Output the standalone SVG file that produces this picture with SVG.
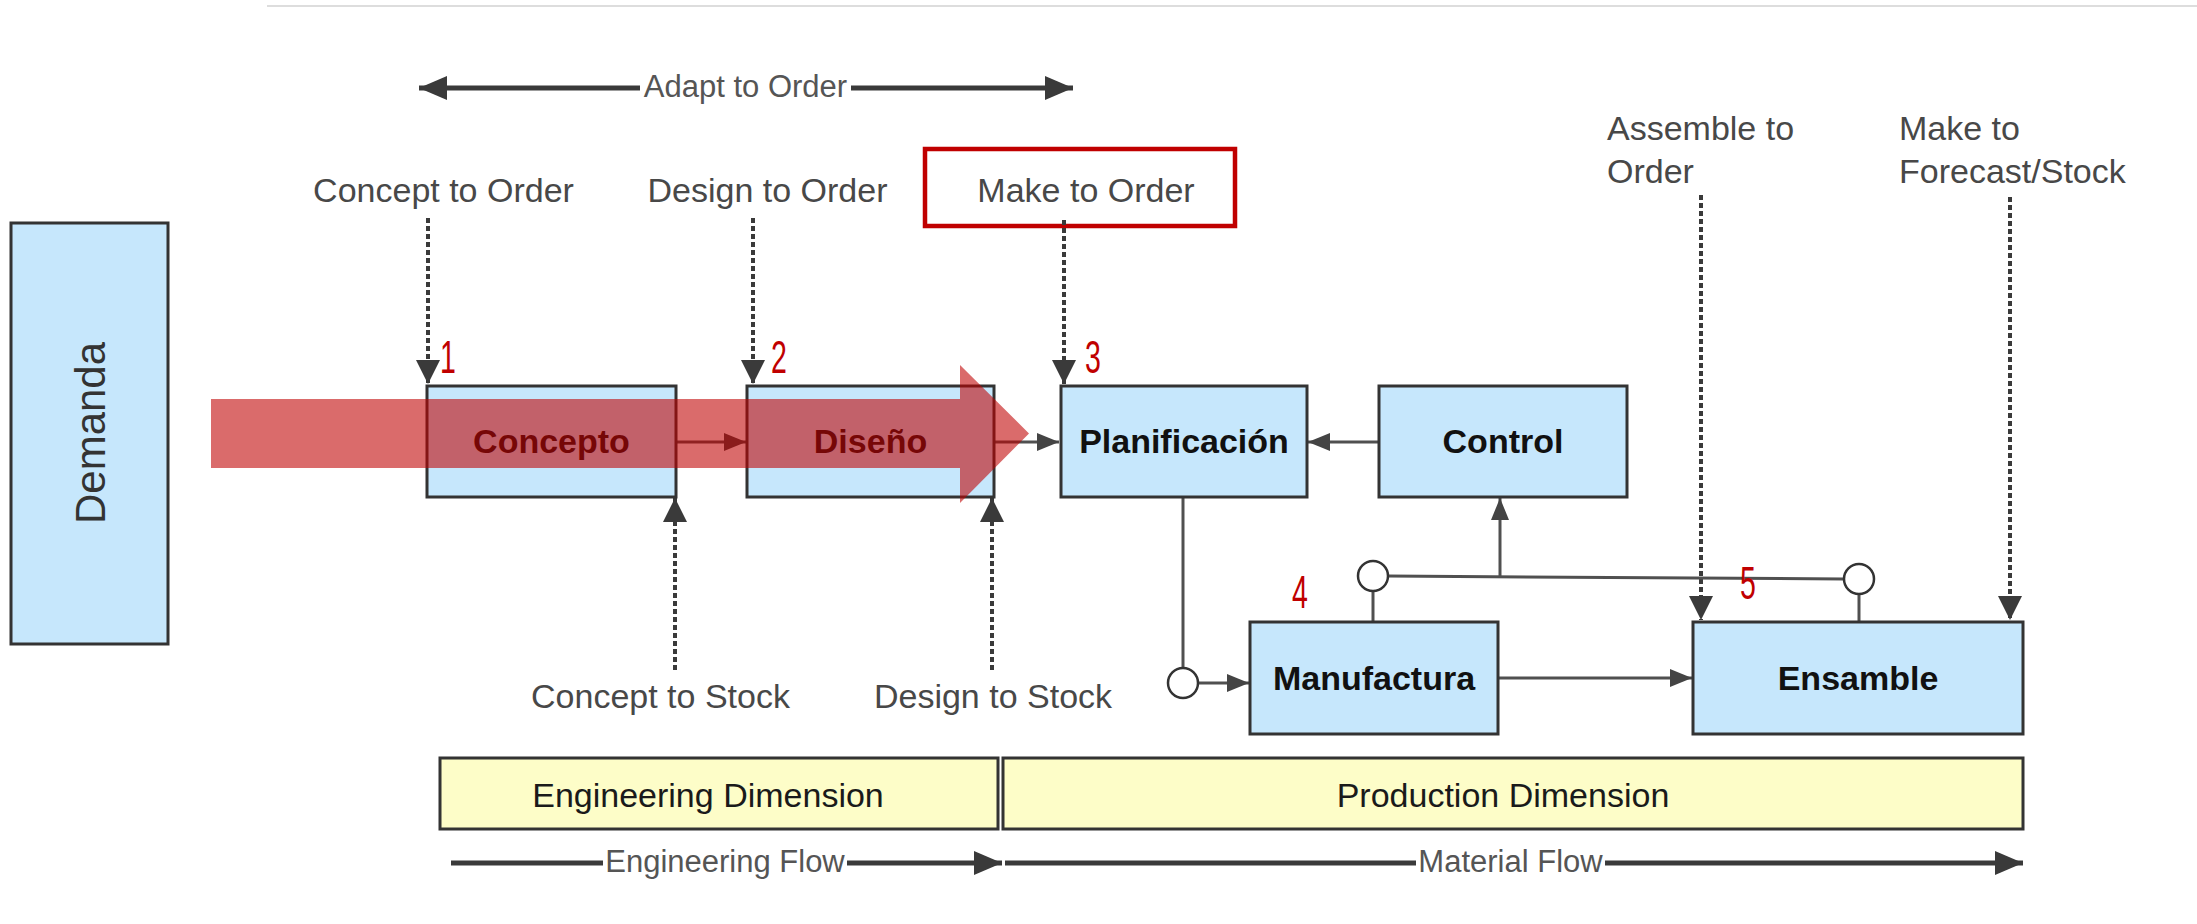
<svg xmlns="http://www.w3.org/2000/svg" width="2197" height="924" viewBox="0 0 2197 924">
<defs>
<style>
.box{fill:#c6e7fc;stroke:#333;stroke-width:3}
.ybox{fill:#fdfdc8;stroke:#333;stroke-width:3}
.lbl{font-family:"Liberation Sans",Arial,sans-serif;font-size:34px;fill:#111;font-weight:bold;text-anchor:middle}
.gl{font-family:"Liberation Sans",Arial,sans-serif;font-size:34px;fill:#484848}
.fl{font-family:"Liberation Sans",Arial,sans-serif;font-size:31px;fill:#555;text-anchor:middle}
.dim{font-family:"Liberation Sans",Arial,sans-serif;font-size:34px;fill:#1a1a1a;text-anchor:middle}
.num{font-family:"Liberation Sans",Arial,sans-serif;font-size:46px;fill:#c00000;text-anchor:middle}
.ln{stroke:#505050;stroke-width:3;fill:none}
.dash{stroke:#3a3a3a;stroke-width:4;stroke-dasharray:5 3;fill:none}
.flow{stroke:#3a3a3a;stroke-width:5;fill:none}
.circ{fill:#fff;stroke:#333;stroke-width:2.5}
</style>
<marker id="ah" viewBox="0 0 22 18" refX="22" refY="9" markerWidth="22" markerHeight="18" markerUnits="userSpaceOnUse" orient="auto"><path d="M0,0 L22,9 L0,18 z" fill="#444"/></marker>
<marker id="ahd" viewBox="0 0 24 24" refX="24" refY="12" markerWidth="24" markerHeight="24" markerUnits="userSpaceOnUse" orient="auto"><path d="M0,0 L24,12 L0,24 z" fill="#3a3a3a"/></marker>
<marker id="big" viewBox="0 0 28 24" refX="28" refY="12" markerWidth="28" markerHeight="24" markerUnits="userSpaceOnUse" orient="auto-start-reverse"><path d="M0,0 L28,12 L0,24 z" fill="#3a3a3a"/></marker>
</defs>
<rect width="2197" height="924" fill="#fff"/>
<line x1="267" y1="6" x2="2197" y2="6" stroke="#ddd" stroke-width="2"/>

<g id="adapt-to-order">
<line class="flow" x1="419" y1="88" x2="640" y2="88" marker-start="url(#big)"/>
<line class="flow" x1="851" y1="88" x2="1073" y2="88" marker-end="url(#big)"/>
<text class="fl" x="745.5" y="97">Adapt to Order</text>
</g>

<g id="labels-top">
<text class="gl" x="443.5" y="202" text-anchor="middle">Concept to Order</text>
<text class="gl" x="767.5" y="202" text-anchor="middle">Design to Order</text>
<rect x="925" y="149" width="310" height="77" fill="none" stroke="#c00000" stroke-width="4.5"/>
<text class="gl" x="1086" y="202" text-anchor="middle">Make to Order</text>
<text class="gl" x="1607" y="140">Assemble to</text>
<text class="gl" x="1607" y="183">Order</text>
<text class="gl" x="1899" y="140">Make to</text>
<text class="gl" x="1899" y="183">Forecast/Stock</text>
<text class="gl" x="660.5" y="708" text-anchor="middle">Concept to Stock</text>
<text class="gl" x="993" y="708" text-anchor="middle">Design to Stock</text>
</g>

<g id="demanda">
<rect class="box" x="11" y="223" width="157" height="421"/>
<text transform="translate(105,433) rotate(-90)" font-family="Liberation Sans,Arial,sans-serif" font-size="42" fill="#333" text-anchor="middle">Demanda</text>
</g>

<g id="connectors">
<line class="dash" x1="428" y1="218" x2="428" y2="384" marker-end="url(#ahd)"/>
<line class="dash" x1="753" y1="218" x2="753" y2="384" marker-end="url(#ahd)"/>
<line class="dash" x1="1064" y1="220" x2="1064" y2="384" marker-end="url(#ahd)"/>
<line class="dash" x1="1701" y1="195" x2="1701" y2="620" marker-end="url(#ahd)"/>
<line class="dash" x1="2010" y1="197" x2="2010" y2="620" marker-end="url(#ahd)"/>
<line class="dash" x1="675" y1="670" x2="675" y2="498" marker-end="url(#ahd)"/>
<line class="dash" x1="992" y1="670" x2="992" y2="498" marker-end="url(#ahd)"/>
<line class="ln" x1="676" y1="442" x2="746" y2="442" marker-end="url(#ah)"/>
<line class="ln" x1="994" y1="442" x2="1059" y2="442" marker-end="url(#ah)"/>
<line class="ln" x1="1379" y1="442" x2="1308" y2="442" marker-end="url(#ah)"/>
<line class="ln" x1="1183" y1="497" x2="1183" y2="668"/>
<line class="ln" x1="1198" y1="683" x2="1249" y2="683" marker-end="url(#ah)"/>
<line class="ln" x1="1498" y1="678" x2="1692" y2="678" marker-end="url(#ah)"/>
<line class="ln" x1="1373" y1="591" x2="1373" y2="622"/>
<line class="ln" x1="1859" y1="594" x2="1859" y2="622"/>
<line class="ln" x1="1388" y1="576" x2="1844" y2="579"/>
<line class="ln" x1="1500" y1="577" x2="1500" y2="498" marker-end="url(#ah)"/>
<circle class="circ" cx="1183" cy="683" r="15"/>
<circle class="circ" cx="1373" cy="576" r="15"/>
<circle class="circ" cx="1859" cy="579" r="15"/>
</g>

<g id="concepto">
<rect class="box" x="427" y="386" width="249" height="111"/>
<text class="lbl" x="551.5" y="453">Concepto</text>
</g>
<g id="diseno">
<rect class="box" x="747" y="386" width="247" height="111"/>
<text class="lbl" x="870.5" y="453">Diseño</text>
</g>
<g id="planificacion">
<rect class="box" x="1061" y="386" width="246" height="111"/>
<text class="lbl" x="1184" y="453">Planificación</text>
</g>
<g id="control">
<rect class="box" x="1379" y="386" width="248" height="111"/>
<text class="lbl" x="1503" y="453">Control</text>
</g>
<g id="manufactura">
<rect class="box" x="1250" y="622" width="248" height="112"/>
<text class="lbl" x="1374" y="690">Manufactura</text>
</g>
<g id="ensamble">
<rect class="box" x="1693" y="622" width="330" height="112"/>
<text class="lbl" x="1858" y="690">Ensamble</text>
</g>

<g id="engineering-dimension">
<rect class="ybox" x="440" y="758" width="558" height="71"/>
<text class="dim" x="708" y="807">Engineering Dimension</text>
</g>
<g id="production-dimension">
<rect class="ybox" x="1003" y="758" width="1020" height="71"/>
<text class="dim" x="1503" y="807">Production Dimension</text>
</g>

<g id="flows">
<line class="flow" x1="451" y1="863" x2="603" y2="863"/>
<line class="flow" x1="847" y1="863" x2="1002" y2="863" marker-end="url(#big)"/>
<text class="fl" x="725" y="872">Engineering Flow</text>
<line class="flow" x1="1005" y1="863" x2="1416" y2="863"/>
<line class="flow" x1="1605" y1="863" x2="2023" y2="863" marker-end="url(#big)"/>
<text class="fl" x="1510.5" y="872">Material Flow</text>
</g>

<g id="red-arrow">
<polygon points="211,399 960,399 960,365 1029,433.5 960,503 960,468 211,468" fill="#c00000" fill-opacity="0.58"/>
</g>

<g id="numbers">
<text class="num" transform="translate(448,373) scale(0.62,1)">1</text>
<text class="num" transform="translate(779,373) scale(0.62,1)">2</text>
<text class="num" transform="translate(1093,373) scale(0.62,1)">3</text>
<text class="num" transform="translate(1300,608) scale(0.62,1)">4</text>
<text class="num" transform="translate(1748,599) scale(0.62,1)">5</text>
</g>
</svg>
